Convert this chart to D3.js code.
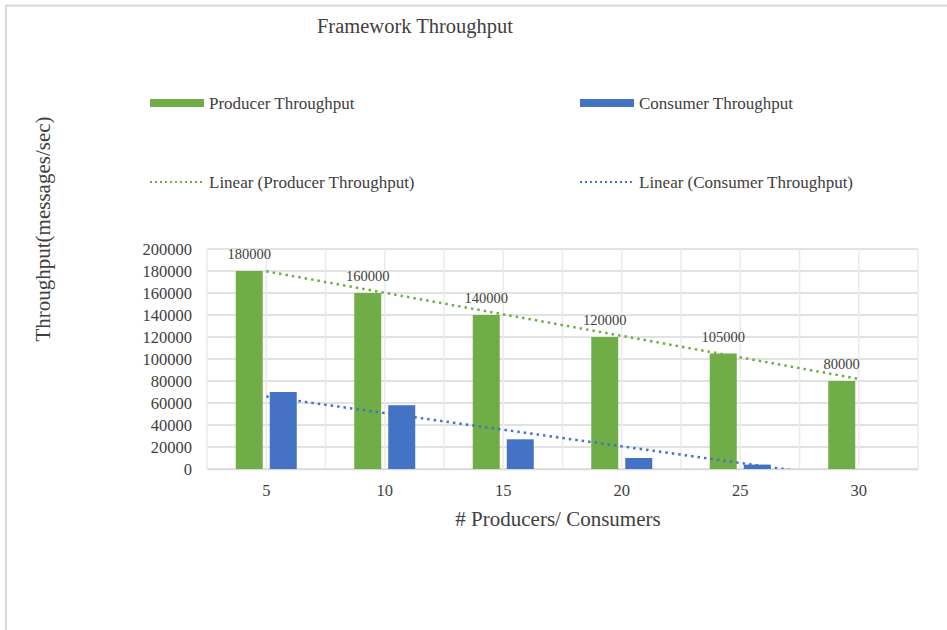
<!DOCTYPE html>
<html><head><meta charset="utf-8">
<script src="https://cdn.jsdelivr.net/npm/d3@7"></script>
<style>
body{margin:0;background:#fff;}
svg{display:block;}
svg text{font-family:"Liberation Serif",Tinos,"Times New Roman","DejaVu Serif",serif !important;fill:#404040;}
</style></head>
<body><svg id="chart" width="947" height="630"></svg>
<script>
const categories = ["5","10","15","20","25","30"];
const producerValues = [180000,160000,140000,120000,105000,80000];
const consumerValues = [70000,58000,27000,10000,4000,0];
const yTicks = [0,20000,40000,60000,80000,100000,120000,140000,160000,180000,200000];
const seriesNames = ["Producer Throughput","Consumer Throughput"];
const trendNames = ["Linear (Producer Throughput)","Linear (Consumer Throughput)"];
const colors = {"Producer Throughput":"#70AD47","Consumer Throughput":"#4472C4"};

const svg = d3.select("#chart");
const m = {left:207, right:918, top:249, bottom:469};

// outer frame
svg.append("path").attr("d",`M6,630 L6,5.5 L947,5.5`).attr("fill","none").attr("stroke","#d9d9d9").attr("stroke-width",2);

const x = d3.scaleBand().domain(categories).range([m.left,m.right]).padding(0);
const bw = x.bandwidth();
const x1 = d3.scaleBand().domain(seriesNames).range([bw/2-30.5, bw/2+30.5]).paddingInner(0.206);
const y = d3.scaleLinear().domain([0,200000]).range([m.bottom,m.top]);

// horizontal gridlines
svg.append("g").selectAll("line").data(yTicks).join("line")
  .attr("x1",m.left).attr("x2",m.right).attr("y1",d=>y(d)).attr("y2",d=>y(d))
  .attr("stroke","#d9d9d9").attr("stroke-width",1.5);
// vertical gridlines (category boundaries and centres)
const vx = [];
categories.forEach(c=>{vx.push(x(c)); vx.push(x(c)+bw/2);});
vx.push(m.right);
svg.append("g").selectAll("line").data(vx).join("line")
  .attr("x1",d=>d).attr("x2",d=>d).attr("y1",m.top).attr("y2",m.bottom)
  .attr("stroke","#ebebeb").attr("stroke-width",1.5);

// y axis labels
const yAxis = d3.axisLeft(y).tickValues(yTicks).tickSize(0).tickPadding(15).tickFormat(d3.format("d"));
const ga = svg.append("g").attr("transform",`translate(${m.left},0)`).call(yAxis);
ga.attr("font-family",null);
ga.select(".domain").remove();
ga.selectAll("text").style("font-size","16.5px").attr("fill","#404040");

// x axis labels
const xAxis = d3.axisBottom(x).tickSize(0).tickPadding(15);
const gx = svg.append("g").attr("transform",`translate(0,${m.bottom})`).call(xAxis);
gx.attr("font-family",null);
gx.select(".domain").attr("stroke","#d9d9d9").attr("stroke-width",1.5);
gx.selectAll("text").style("font-size","16.5px").attr("fill","#404040");

// bars
const rows = categories.map((c,i)=>({cat:c, "Producer Throughput":producerValues[i], "Consumer Throughput":consumerValues[i]}));
const g = svg.append("g");
rows.forEach(r=>{
  seriesNames.forEach(s=>{
    if(r[s]>0){
      g.append("rect").attr("x",x(r.cat)+x1(s)).attr("width",x1.bandwidth())
        .attr("y",y(r[s])).attr("height",y(0)-y(r[s])).attr("fill",colors[s]);
    }
  });
});

// data labels (producer)
svg.append("g").selectAll("text").data(rows).join("text")
  .attr("x",d=>x(d.cat)+x1("Producer Throughput")+x1.bandwidth()/2)
  .attr("y",d=>y(d["Producer Throughput"])-12)
  .attr("text-anchor","middle").style("font-size","14.5px").text(d=>d["Producer Throughput"]);

// linear trendlines (least squares on category index)
function fit(vals){
  const xs=vals.map((_,i)=>i+1);
  const mx=d3.mean(xs), my=d3.mean(vals);
  const b=d3.sum(xs.map((xv,i)=>(xv-mx)*(vals[i]-my)))/d3.sum(xs.map(xv=>(xv-mx)**2));
  return {a:my-b*mx,b:b};
}
svg.append("clipPath").attr("id","pa").append("rect").attr("x",m.left).attr("y",m.top).attr("width",m.right-m.left).attr("height",m.bottom-m.top);
const cx = i=>x(categories[i])+bw/2;
[[producerValues,"Producer Throughput"],[consumerValues,"Consumer Throughput"]].forEach(([vals,s])=>{
  const f=fit(vals);
  const n=vals.length;
  svg.append("line").attr("clip-path","url(#pa)")
    .attr("x1",cx(0)).attr("y1",y(f.a+f.b*1))
    .attr("x2",cx(n-1)).attr("y2",y(f.a+f.b*n))
    .attr("stroke",colors[s]).attr("stroke-width",2.5).attr("stroke-dasharray","2.5 4");
});

// title
svg.append("text").attr("x",415).attr("y",33).attr("text-anchor","middle").style("font-size","20.5px").text("Framework Throughput");
// axis titles
svg.append("text").attr("x",558).attr("y",526).attr("text-anchor","middle").style("font-size","21px").text("# Producers/ Consumers");
svg.append("text").attr("transform","translate(50,229) rotate(-90)").attr("text-anchor","middle").style("font-size","21px").text("Throughput(messages/sec)");

// legend
const leg = [
  {x:150,y:103,name:seriesNames[0],type:"bar",color:colors[seriesNames[0]]},
  {x:580,y:103,name:seriesNames[1],type:"bar",color:colors[seriesNames[1]]},
  {x:150,y:182,name:trendNames[0],type:"line",color:colors[seriesNames[0]]},
  {x:580,y:182,name:trendNames[1],type:"line",color:colors[seriesNames[1]]}
];
leg.forEach(l=>{
  if(l.type==="bar"){
    svg.append("rect").attr("x",l.x).attr("y",l.y-4).attr("width",54).attr("height",8).attr("fill",l.color);
  } else {
    svg.append("line").attr("x1",l.x).attr("x2",l.x+52).attr("y1",l.y).attr("y2",l.y)
      .attr("stroke",l.color).attr("stroke-width",2).attr("stroke-dasharray","2 3");
  }
  svg.append("text").attr("x",l.x+59).attr("y",l.y+6).style("font-size","17px").text(l.name);
});
</script></body></html>
